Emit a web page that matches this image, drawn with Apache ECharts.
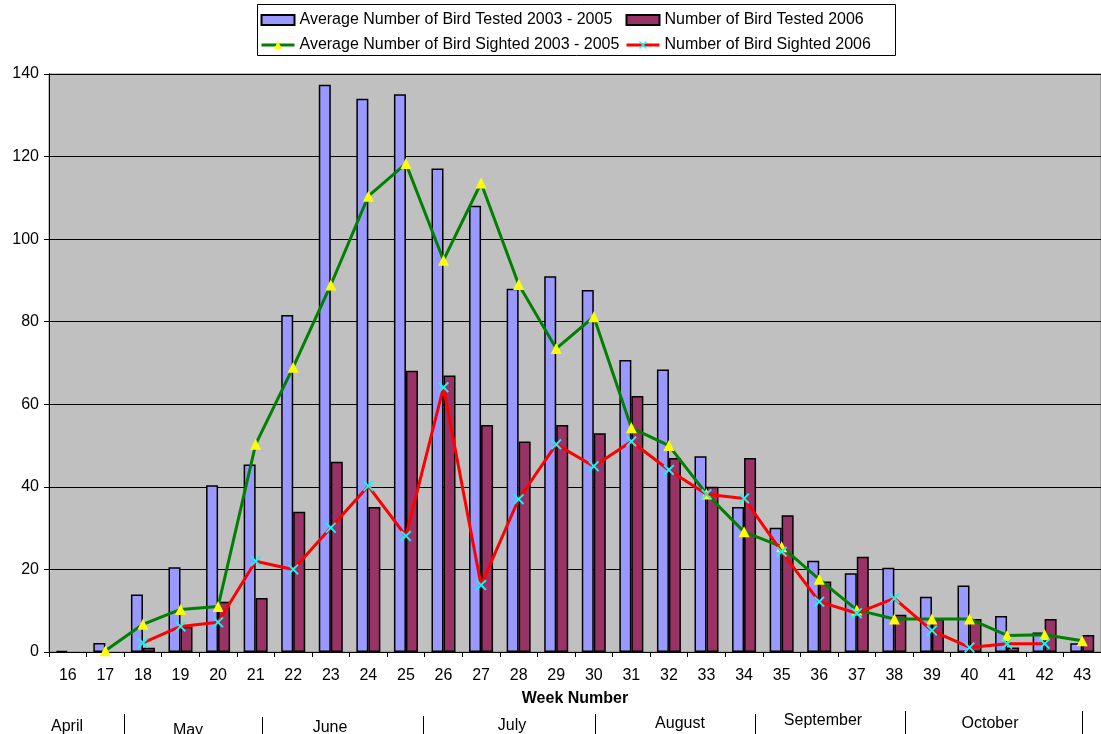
<!DOCTYPE html>
<html>
<head>
<meta charset="utf-8">
<script src="https://cdn.jsdelivr.net/npm/echarts@6/dist/echarts.min.js"></script>
<style>
html,body{margin:0;padding:0;background:#fff;}
#chart{width:1101px;height:734px;}
</style>
</head>
<body>
<div id="chart"></div>
<script>
var weeks = ['16','17','18','19','20','21','22','23','24','25','26','27','28','29','30','31','32','33','34','35','36','37','38','39','40','41','42','43'];
var avgTested = [0.3, 2.2, 13.9, 20.5, 40.4, 45.4, 81.6, 137.4, 134, 135.1, 117.1, 108.1, 88, 91, 87.7, 70.7, 68.4, 47.4, 35.1, 30.1, 22.1, 19.1, 20.4, 13.4, 16.1, 8.7, 4.7, 2.1];
var tested2006 = [null, null, 1, 6.1, 12.2, 13.1, 34, 46.1, 35.1, 68.1, 67, 55, 51, 55, 53, 62, 47, 40, 47, 33.1, 17.1, 23.1, 9, 8, 8, 1.1, 8, 4.1];
var avgSighted = [null, 0.3, 6.7, 10.3, 11, 50.3, 69, 88.9, 110.4, 118.3, 94.9, 113.6, 89, 73.5, 81.2, 54.3, 50, 38.3, 29.1, 25.5, 17.6, 10.2, 8, 8, 8, 4, 4.2, 2.7];
var sighted2006 = [null, null, 2.2, 6.2, 7.2, 22, 20, 30.1, 40.2, 28.1, 64.1, 16.2, 37, 50.3, 45, 51, 44.1, 38.2, 37.2, 24.3, 12.2, 9.4, 13, 5.2, 1.1, 2, 2, null];
var yTicks = [0, 20, 40, 60, 80, 100, 120, 140];
var months = ['April', 'May', 'June', 'July', 'August', 'September', 'October'];
var seriesNames = ['Average Number of Bird Tested 2003 - 2005', 'Number of Bird Tested 2006', 'Average Number of Bird Sighted 2003 - 2005', 'Number of Bird Sighted 2006'];

var FONT = '"Liberation Sans", Arial, sans-serif';
var monthLayout = [
  {x: 67, y: 727}, {x: 188, y: 731}, {x: 330, y: 728}, {x: 512, y: 726},
  {x: 680, y: 724}, {x: 823, y: 721}, {x: 990, y: 724}
];
var sepLayout = [{x:124,y:714},{x:262,y:717},{x:423,y:716},{x:595,y:714},{x:755,y:714},{x:905,y:711},{x:1082,y:711}];

var graphics = [];
graphics.push({type:'rect', shape:{x:257.5, y:4.5, width:638, height:51}, style:{fill:'#fff', stroke:'#000', lineWidth:1}, z:-1});
months.forEach(function(m, i){
  graphics.push({type:'text', x: monthLayout[i].x, y: monthLayout[i].y,
    style:{text:m, font:'16px ' + FONT, fill:'#000', textAlign:'center', textVerticalAlign:'middle'}});
});
sepLayout.forEach(function(s){
  graphics.push({type:'line', shape:{x1:s.x+0.5, y1:s.y, x2:s.x+0.5, y2:734}, style:{stroke:'#000', lineWidth:1}});
});

var crossPath = 'path://M0,1.2L1.2,0L5,3.8L8.8,0L10,1.2L6.2,5L10,8.8L8.8,10L5,6.2L1.2,10L0,8.8L3.8,5Z';

var legendCommon = {orient:'vertical', top:7, itemGap:9, itemWidth:33, itemHeight:10,
  textStyle:{fontSize:16, color:'#000', fontFamily:FONT}, selectedMode:false,
  lineStyle:{width:3}};

var chart = echarts.init(document.getElementById('chart'), null, {renderer:'canvas'});
chart.setOption({
  animation: false,
  backgroundColor: '#fff',
  textStyle: {fontFamily: FONT},
  graphic: graphics,
  legend: [
    Object.assign({}, legendCommon, {left:255,
      data:[{name:seriesNames[0], icon:'rect'}, {name:seriesNames[2]}]}),
    Object.assign({}, legendCommon, {left:620,
      data:[{name:seriesNames[1], icon:'rect'}, {name:seriesNames[3]}]})
  ],
  grid: {left:49, right:0, top:74, bottom:82, show:true, backgroundColor:'#C0C0C0', borderColor:'#808080', borderWidth:1},
  xAxis: {
    type:'category', data: weeks, boundaryGap:true,
    name:'Week Number', nameLocation:'middle', nameGap:39,
    nameTextStyle:{fontSize:16, fontWeight:'bold', color:'#000', fontFamily:FONT},
    axisLine:{lineStyle:{color:'#000', width:1}},
    axisTick:{show:true, interval:0, length:5, lineStyle:{color:'#000'}},
    axisLabel:{fontSize:16, color:'#000', margin:16, interval:0, fontFamily:FONT},
    splitLine:{show:false}
  },
  yAxis: {
    type:'value', min:yTicks[0], max:yTicks[yTicks.length-1], interval:20,
    axisLine:{show:true, lineStyle:{color:'#000', width:1}},
    axisTick:{show:true, length:5, lineStyle:{color:'#000'}},
    axisLabel:{fontSize:16, color:'#000', margin:10, fontFamily:FONT},
    splitLine:{show:true, lineStyle:{color:'#000', width:1}}
  },
  series: [
    {name:seriesNames[0], type:'bar', data:avgTested, barWidth:12, barGap:'0%',
     itemStyle:{color:'#9999FF', borderColor:'#000', borderWidth:1.5}},
    {name:seriesNames[1], type:'bar', data:tested2006, barWidth:12, barGap:'0%',
     itemStyle:{color:'#993366', borderColor:'#000', borderWidth:1.5}},
    {name:seriesNames[2], type:'line', data:avgSighted, z:5,
     lineStyle:{color:'#008000', width:3}, itemStyle:{color:'#FFFF00', borderWidth:0},
     symbol:'triangle', symbolSize:11, showSymbol:true, connectNulls:false},
    {name:seriesNames[3], type:'line', data:sighted2006, z:6,
     lineStyle:{color:'#FF0000', width:3}, itemStyle:{color:'#00FFFF', borderWidth:0},
     symbol:crossPath, symbolSize:11, showSymbol:true, connectNulls:false}
  ]
});
</script>
</body>
</html>
